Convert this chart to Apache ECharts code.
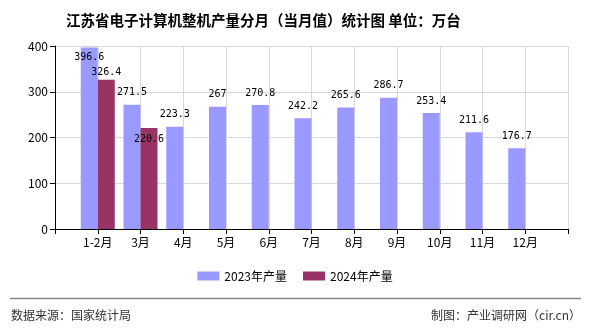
<!DOCTYPE html>
<html><head><meta charset="utf-8">
<script src="https://cdn.jsdelivr.net/npm/echarts@6/dist/echarts.min.js"></script>
<style>html,body{margin:0;padding:0;background:#fff}#c{width:590px;height:330px}</style>
</head><body><div id="c"></div>
<script>
var categories = ['', '1-2月', '3月', '4月', '5月', '6月', '7月', '8月', '9月', '10月', '11月', '12月', ''];
var values2023 = [null, 396.6, 271.5, 223.3, 267, 270.8, 242.2, 265.6, 286.7, 253.4, 211.6, 176.7, null];
var values2024 = [null, 326.4, 220.6, null, null, null, null, null, null, null, null, null, null];
var yTicks = [0, 100, 200, 300, 400];
// label nudges (styling only) to mimic the reference's label placement
var nudge2023 = {1: [0, 22]};
var nudge2024 = {1: [0, 5], 2: [0, 23]};
var F = '"Noto Sans CJK SC", "SimSun", sans-serif';
var chart = echarts.init(document.getElementById('c'));
function lbl(){
  return {show: true, position: 'top', distance: 7, color: '#000', fontSize: 10, fontFamily: '"DejaVu Sans Mono", monospace',
    formatter: function(p){ return p.value == null ? '' : p.value; }};
}
function build(vals, nudge){
  return vals.map(function(v, i){
    if (nudge[i]) { var l = lbl(); l.offset = nudge[i]; return {value: v, label: l}; }
    return v;
  });
}
chart.setOption({
  animation: false,
  backgroundColor: '#fff',
  title: {text: '江苏省电子计算机整机产量分月（当月值）统计图 单位：万台', left: 61, top: 8,
    textStyle: {fontSize: 14.5, fontWeight: 'bold', color: '#000', fontFamily: F}},
  legend: {bottom: 43, left: 'center', itemWidth: 22, itemHeight: 9, itemGap: 16, icon: 'rect',
    textStyle: {fontSize: 12, color: '#000', fontFamily: F},
    data: ['2023年产量', '2024年产量']},
  grid: {left: 55, right: 22, top: 46, bottom: 101},
  xAxis: {type: 'category', data: categories, boundaryGap: false,
    axisLine: {lineStyle: {color: '#000'}},
    axisTick: {show: true, length: 5, lineStyle: {color: '#000'}, alignWithLabel: true},
    axisLabel: {color: '#000', fontSize: 12, fontFamily: F, margin: 7, interval: 0},
    splitLine: {show: true, lineStyle: {color: '#d9d9d9'}}},
  yAxis: {type: 'value', min: yTicks[0], max: yTicks[yTicks.length-1], interval: 100,
    axisLine: {show: true, lineStyle: {color: '#000'}},
    axisTick: {show: true, length: 5, lineStyle: {color: '#000'}},
    axisLabel: {color: '#000', fontSize: 12, fontFamily: F, margin: 7},
    splitLine: {show: true, lineStyle: {color: '#d9d9d9'}}},
  series: [
    {name: '2023年产量', type: 'bar', data: build(values2023, nudge2023), barWidth: 17, barGap: '0%',
      itemStyle: {color: '#9999FF', borderRadius: 0, borderWidth: 0}, label: lbl()},
    {name: '2024年产量', type: 'bar', data: build(values2024, nudge2024), barWidth: 17, barGap: '0%',
      itemStyle: {color: '#993366', borderRadius: 0, borderWidth: 0}, label: lbl()}
  ],
  graphic: [
    {type: 'line', shape: {x1: 10, y1: 298.5, x2: 581, y2: 298.5}, style: {stroke: '#888', lineWidth: 1.5}},
    {type: 'text', left: 11, top: 309, style: {text: '数据来源：国家统计局', fontSize: 12, fill: '#333', fontFamily: F}},
    {type: 'text', right: 9, top: 309, style: {text: '制图：产业调研网（cir.cn）', fontSize: 12, fill: '#333', fontFamily: F}}
  ]
});
</script></body></html>
